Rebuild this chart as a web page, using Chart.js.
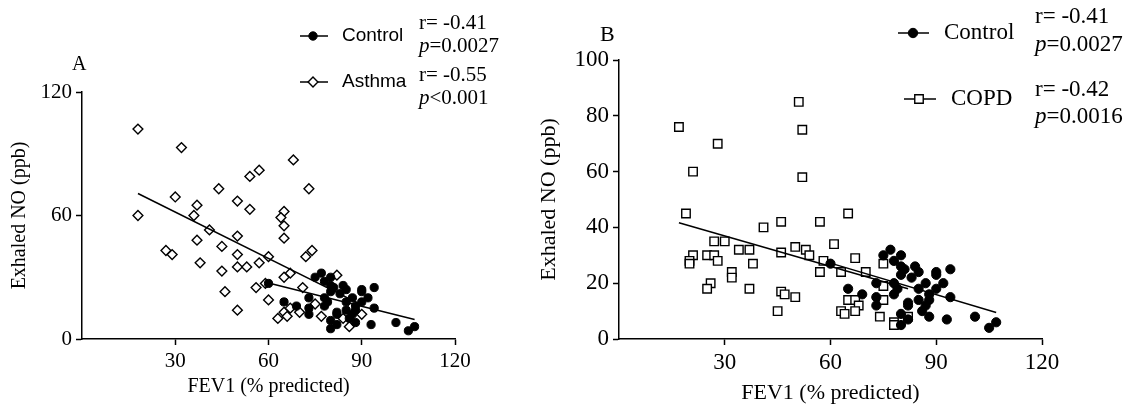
<!DOCTYPE html>
<html>
<head>
<meta charset="utf-8">
<script src="https://cdn.jsdelivr.net/npm/chart.js@4"></script>
<style>
  html, body { margin: 0; padding: 0; background: #fff; }
  #wrap { position: relative; width: 1131px; height: 406px; overflow: hidden; }
  #chartA { position: absolute; left: 0; top: 0; }
  #chartB { position: absolute; left: 530px; top: 0; }
</style>
</head>
<body>
<div id="wrap">
  <canvas id="chartA" width="530" height="406"></canvas>
  <canvas id="chartB" width="601" height="406"></canvas>
</div>
<script>
// FEV1 (% predicted), exhaled NO (ppb)
const controlPoints = [
  [60,27],[65,18],[69,16],[73,20],[73,15],[73,12],[75,30],[77,32],[78,28],[78,20],
  [78,16],[79,18],[80,30],[80,26],[80,23],[80,9],[80,5],[81,25],[82,13],[82,12],
  [82,7],[83,22],[84,26],[85,24],[85,18],[85,14],[86,10],[87,20],[87,12],[88,16],
  [88,14],[88,8],[90,24],[90,23],[90,18],[92,20],[94,25],[94,15],[93,7],[101,8],
  [105,4],[107,6]
];
const asthmaPoints = [
  [18,102],[32,93],[68,87],[57,82],[54,79],[44,73],[73,73],[30,69],[37,65],[50,67],
  [54,63],[65,62],[64,59],[65,55],[65,49],[18,60],[36,60],[41,53],[50,50],[37,48],
  [45,45],[27,43],[29,41],[50,41],[60,40],[74,43],[72,40],[38,37],[50,35],[53,35],
  [57,37],[45,33],[67,32],[65,30],[82,31],[59,27],[56,25],[71,25],[46,23],[60,19],
  [75,17],[50,14],[65,13],[67,15],[70,13],[63,10],[66,11],[77,11],[90,12],[86,6],[84,10]
];
const copdPoints = [
  [17,76],[28,70],[21,60],[19,45],[51,85],[52,75],[52,58],[65,45],[46,42],[57,42],
  [41,40],[61,34],[50,33],[53,32],[54,30],[46,31],[58,28],[67,29],[57,24],[63,24],
  [70,24],[75,27],[75,19],[75,14],[74,8],[78,6],[78,5],[82,8],[65,14],[67,14],
  [68,12],[67,10],[63,10],[64,9],[30,35],[27,35],[34,32],[37,32],[21,30],[20,28],
  [20,27],[25,30],[27,30],[28,28],[38,27],[32,24],[32,22],[26,20],[25,18],[37,18],
  [45,10],[46,17],[47,16],[50,15]
];
// regression line end points
const controlFit = [[60,27.2],[107,9.5]];
const asthmaFit = [[18,70.7],[90,16.6]];
const copdFit = [[17,41.7],[82,18]];

const xTicksStep = 30;
const yStepA = 60, yMaxA = 120;
const yStepB = 20, yMaxB = 100;
const statsA = [['r= -0.41', 'p=0.0027'], ['r= -0.55', 'p<0.001']];
const statsB = [['r= -0.41', 'p=0.0027'], ['r= -0.42', 'p=0.0016']];

const serif = '"Liberation Serif", "Times New Roman", serif';
const sans = '"Liberation Sans", Arial, sans-serif';

const toXY = arr => arr.map(p => ({ x: p[0], y: p[1] }));

// legend, panel letter and r / p text
const panelText = {
  id: 'panelText',
  afterDraw(chart, args, o) {
    const ctx = chart.ctx;
    ctx.save();
    ctx.textBaseline = 'middle';
    ctx.textAlign = 'left';
    ctx.fillStyle = '#000';
    ctx.font = o.letterFont;
    ctx.fillText(o.letter, o.letterX, o.letterY);
    o.rows.forEach((row, i) => {
      const ds = chart.data.datasets[row.ds];
      ctx.strokeStyle = '#000';
      ctx.lineWidth = 1.5;
      ctx.beginPath();
      ctx.moveTo(row.x0, row.y);
      ctx.lineTo(row.x1, row.y);
      ctx.stroke();
      ctx.fillStyle = ds.backgroundColor;
      ctx.strokeStyle = ds.borderColor;
      ctx.lineWidth = ds.borderWidth;
      Chart.helpers.drawPoint(ctx, { pointStyle: ds.pointStyle, radius: row.r, borderWidth: ds.borderWidth, rotation: 0 }, row.mx, row.y);
      ctx.fillStyle = '#000';
      ctx.font = o.labelFont;
      ctx.fillText(ds.label, row.tx, row.y);
      const st = o.stats[i];
      ctx.font = o.statFont;
      ctx.fillText(st[0], o.statX, row.rY);
      ctx.font = 'italic ' + o.statFont;
      ctx.fillText(st[1][0], o.statX, row.pY);
      const w = ctx.measureText(st[1][0]).width;
      ctx.font = o.statFont;
      ctx.fillText(st[1].slice(1), o.statX + w, row.pY);
    });
    ctx.restore();
  }
};

function axes(yMax, yStep, fontSize, titleSize, yWidth, yTitlePad, xTitlePad) {
  const tickFont = { family: serif, size: fontSize };
  const titleFont = { family: serif, size: titleSize, lineHeight: 1.2 };
  return {
    x: {
      type: 'linear', min: 0, max: 120,
      ticks: { stepSize: xTicksStep, color: '#000', font: tickFont, padding: 4,
               callback: v => v === 0 ? '' : v },
      grid: { drawOnChartArea: false, drawTicks: true, tickLength: 6, tickWidth: 1.5,
              color: c => (c.tick && c.tick.value === 0) ? 'rgba(0,0,0,0)' : '#000' },
      border: { color: '#000', width: 1.5 },
      title: { display: true, text: 'FEV1 (% predicted)', color: '#000', font: titleFont,
               padding: { top: 0, bottom: xTitlePad } },
      afterFit: s => { s.height = 67; }
    },
    y: {
      type: 'linear', min: 0, max: yMax,
      ticks: { stepSize: yStep, color: '#000', font: tickFont, padding: 4 },
      grid: { drawOnChartArea: false, drawTicks: true, tickLength: 6, tickWidth: 1.5, color: '#000' },
      border: { color: '#000', width: 1.5 },
      title: { display: true, text: 'Exhaled NO (ppb)', color: '#000', font: titleFont,
               padding: { top: yTitlePad, bottom: 0 } },
      afterFit: s => { s.width = yWidth; }
    }
  };
}

function fitSet(pts) {
  return { label: '', data: toXY(pts), showLine: true, pointRadius: 0, borderColor: '#000',
           borderWidth: 1.5, order: 1, fill: false };
}

new Chart(document.getElementById('chartA'), {
  type: 'scatter',
  data: {
    datasets: [
      { label: 'Control', data: toXY(controlPoints), pointStyle: 'circle', pointRadius: 4.1,
        backgroundColor: '#000', borderColor: '#000', borderWidth: 1, order: 0 },
      { label: 'Asthma', data: toXY(asthmaPoints), pointStyle: 'rectRot', pointRadius: 4.9,
        backgroundColor: '#fff', borderColor: '#000', borderWidth: 1.4, order: 2 },
      fitSet(controlFit),
      fitSet(asthmaFit)
    ]
  },
  plugins: [panelText],
  options: {
    responsive: false, animation: false, events: [],
    layout: { padding: { left: 0, top: 92, right: 75, bottom: 0 } },
    scales: axes(yMaxA, yStepA, 21, 20, 82, 8, 7),
    plugins: {
      legend: { display: false }, tooltip: { enabled: false },
      panelText: {
        letter: 'A', letterX: 72, letterY: 65, letterFont: '20px ' + serif,
        labelFont: '19px ' + sans, statFont: '21px ' + serif, statX: 419, stats: statsA,
        rows: [
          { ds: 0, x0: 300, x1: 328, mx: 313, r: 4.2, y: 36, tx: 342, rY: 23, pY: 46 },
          { ds: 1, x0: 300, x1: 328, mx: 313, r: 4.9, y: 82, tx: 342, rY: 75, pY: 98 }
        ]
      }
    }
  }
});

new Chart(document.getElementById('chartB'), {
  type: 'scatter',
  data: {
    datasets: [
      { label: 'Control', data: toXY(controlPoints), pointStyle: 'circle', pointRadius: 4.6,
        backgroundColor: '#000', borderColor: '#000', borderWidth: 1, order: 0 },
      { label: 'COPD', data: toXY(copdPoints), pointStyle: 'rect', pointRadius: 6,
        backgroundColor: '#fff', borderColor: '#000', borderWidth: 1.4, order: 2 },
      fitSet(controlFit),
      fitSet(copdFit)
    ]
  },
  plugins: [panelText],
  options: {
    responsive: false, animation: false, events: [],
    layout: { padding: { left: 0, top: 60, right: 89, bottom: 0 } },
    scales: axes(yMaxB, yStepB, 23, 22, 89, 6, 0),
    plugins: {
      legend: { display: false }, tooltip: { enabled: false },
      panelText: {
        letter: 'B', letterX: 70, letterY: 35, letterFont: '22px ' + serif,
        labelFont: '23px ' + serif, statFont: '23px ' + serif, statX: 505, stats: statsB,
        rows: [
          { ds: 0, x0: 368, x1: 399, mx: 383, r: 4.7, y: 33, tx: 414, rY: 17, pY: 45 },
          { ds: 1, x0: 374, x1: 406, mx: 389, r: 6, y: 99, tx: 421, rY: 90, pY: 117 }
        ]
      }
    }
  }
});
</script>
</body>
</html>
